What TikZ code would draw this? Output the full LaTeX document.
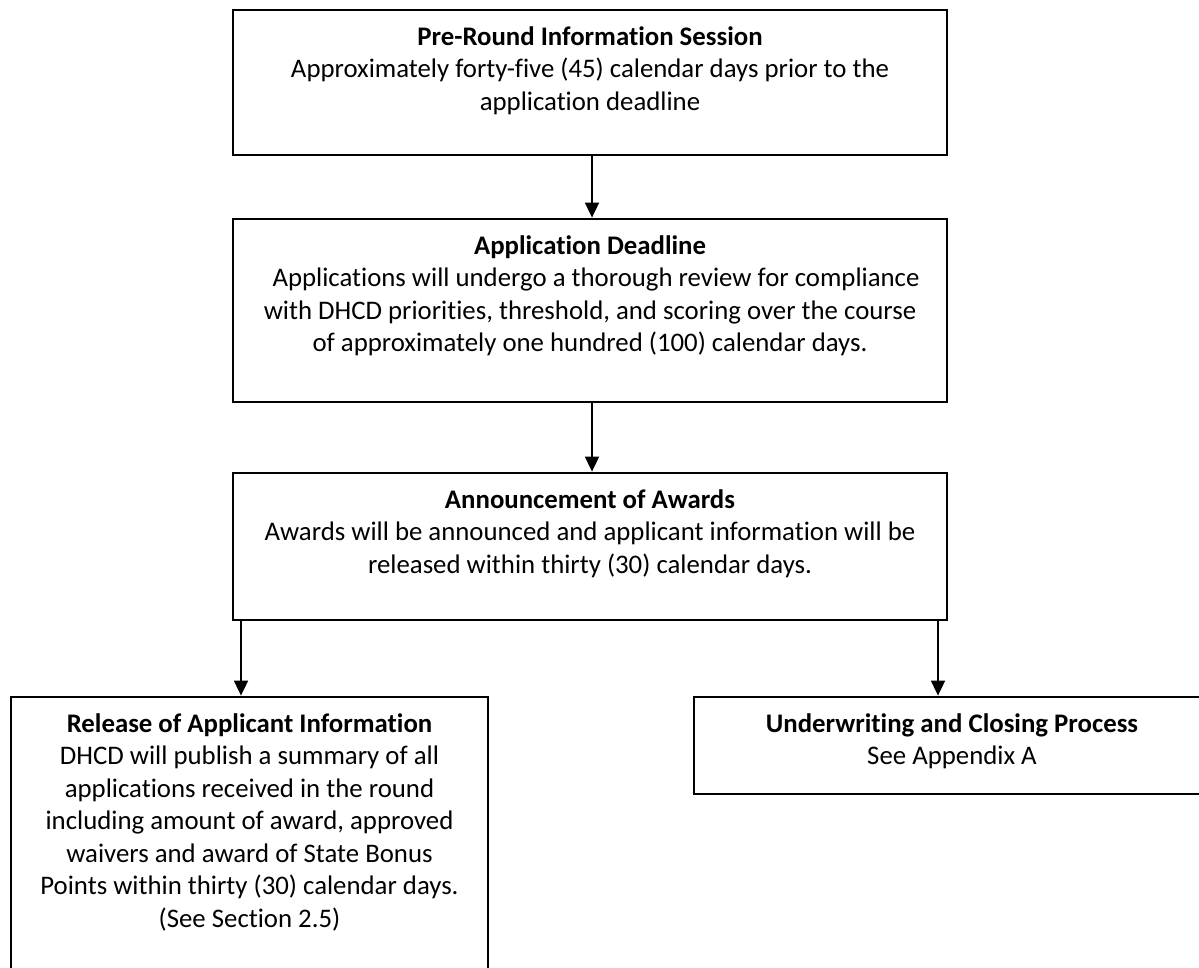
\documentclass[tikz,border=0pt]{standalone}
\usepackage{fontspec}
\setmainfont{Carlito}[Ligatures=NoCommon]
\usetikzlibrary{arrows.meta}
\begin{document}
\begin{tikzpicture}[x=1pt,y=-1pt,
  box/.style={draw=black, line width=2.8pt, inner sep=0pt},
  txt/.style={anchor=north, align=center, inner sep=0pt, font=\fontsize{26.8}{32.5}\selectfont},
  arr/.style={line width=1.8pt, -{Triangle[length=15pt,width=14pt]}}
]
\useasboundingbox (0,0) rectangle (1199,968);
\clip (0,0) rectangle (1199,968);

\node[box, minimum width=714pt, minimum height=145pt] (b1) at (590,82.5) {};
\node[txt] (t1) at (590,22.25) {\strut\textbf{Pre-Round Information Session}\\Approximately forty-five (45) calendar days prior to the\\application deadline};

\node[box, minimum width=714pt, minimum height=183pt] (b2) at (590,310.5) {};
\node[txt] (t2) at (590,231.25) {\strut\textbf{Application Deadline}\\\hspace*{12pt}Applications will undergo a thorough review for compliance\\with DHCD priorities, threshold, and scoring over the course\\of approximately one hundred (100) calendar days.};

\node[box, minimum width=714pt, minimum height=147pt] (b3) at (590,546.5) {};
\node[txt] (t3) at (590,485.25) {\strut\textbf{Announcement of Awards}\\Awards will be announced and applicant information will be\\released within thirty (30) calendar days.};

\node[box, minimum width=477pt, minimum height=293pt] (b4) at (249.5,843.5) {};
\node[txt] (t4) at (249.5,709.25) {\strut\textbf{Release of Applicant Information}\\DHCD will publish a summary of all\\applications received in the round\\including amount of award, approved\\waivers and award of State Bonus\\Points within thirty (30) calendar days.\\(See Section 2.5)};

\node[box, minimum width=516pt, minimum height=97pt] (b5) at (952,745.5) {};
\node[txt] (t5) at (952,709.25) {\strut\textbf{Underwriting and Closing Process}\\See Appendix A};

\coordinate (cm) at (592,0);
\coordinate (cl) at (241,0);
\coordinate (cr) at (938,0);
\draw[arr] (b1.south -| cm) -- (b2.north -| cm);
\draw[arr] (b2.south -| cm) -- (b3.north -| cm);
\draw[arr] (b3.south -| cl) -- (b4.north -| cl);
\draw[arr] (b3.south -| cr) -- (b5.north -| cr);
\end{tikzpicture}
\end{document}
